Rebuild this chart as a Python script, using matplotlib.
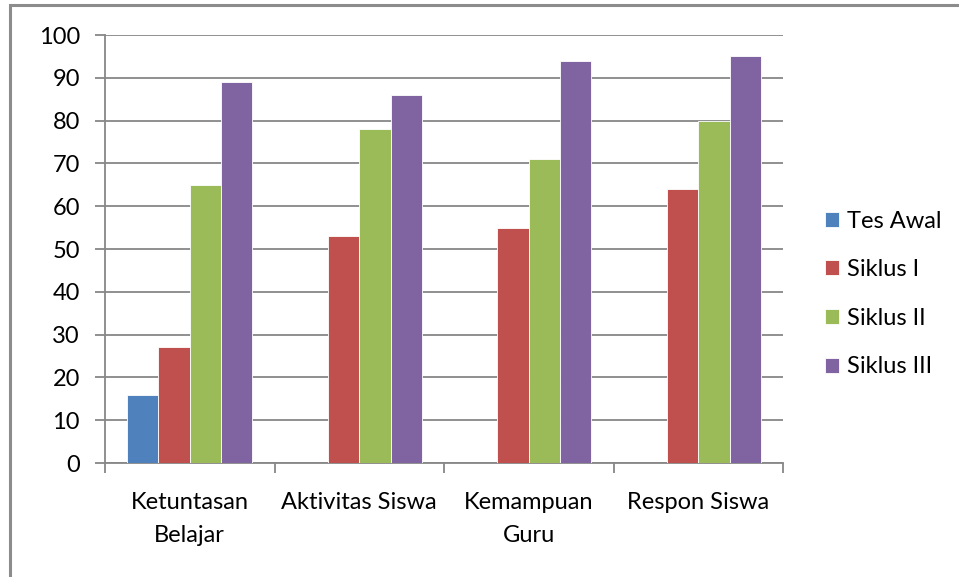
import matplotlib.pyplot as plt
from matplotlib.patches import Rectangle
import numpy as np

plt.rcParams['font.family'] = ['Lato', 'DejaVu Sans']

categories = ['Ketuntasan\nBelajar', 'Aktivitas Siswa', 'Kemampuan\nGuru', 'Respon Siswa']
series_names = ['Tes Awal', 'Siklus I', 'Siklus II', 'Siklus III']
tes_awal = [16, 0, 0, 0]
siklus_1 = [27, 53, 55, 64]
siklus_2 = [65, 78, 71, 80]
siklus_3 = [89, 86, 94, 95]
colors = ['#4F81BD', '#C0504D', '#9BBB59', '#8064A2']

grid_col = '#878787'

fig = plt.figure(figsize=(9.59, 5.77), dpi=100)
ax = fig.add_axes([105/959, 1-463/577, (783-105)/959, (463-35)/577])

x = np.arange(len(categories))
w = 0.185
all_series = [tes_awal, siklus_1, siklus_2, siklus_3]
for i, (vals, name, c) in enumerate(zip(all_series, series_names, colors)):
    ax.bar(x + (i-1.5)*w, vals, width=w, color=c, edgecolor='white',
           linewidth=0.6, label=name, zorder=3)

ax.set_xlim(-0.5, len(categories)-0.5)
ax.set_ylim(0, 100)
ax.set_yticks(range(0, 101, 10))
ax.yaxis.grid(True, color=grid_col, linewidth=1.3, zorder=0)
ax.set_axisbelow(True)

ax.set_xticks(x)
ax.set_xticklabels(categories, fontsize=17, linespacing=1.68)
ax.set_xticks(np.arange(-0.5, len(categories), 1), minor=True)
ax.tick_params(axis='x', which='major', length=0, pad=21)
ax.tick_params(axis='x', which='minor', length=7, width=1.3, color=grid_col)
ax.tick_params(axis='y', length=7, width=1.3, color=grid_col, labelsize=17, pad=11)

for s in ['top', 'right']:
    ax.spines[s].set_visible(False)
for s in ['left', 'bottom']:
    ax.spines[s].set_color(grid_col)
    ax.spines[s].set_linewidth(1.3)

leg = ax.legend(loc='center left', bbox_to_anchor=(1.03, 0.395), frameon=False,
                fontsize=17, handlelength=0.6, handleheight=0.6,
                handletextpad=0.35, labelspacing=1.17)

fig.patches.append(Rectangle((10/959, -0.1), 1.2, 1.1 - 5/577, transform=fig.transFigure,
                             fill=False, edgecolor='#8c8c8c', linewidth=2.2))

fig.savefig('out.png', dpi=100)
